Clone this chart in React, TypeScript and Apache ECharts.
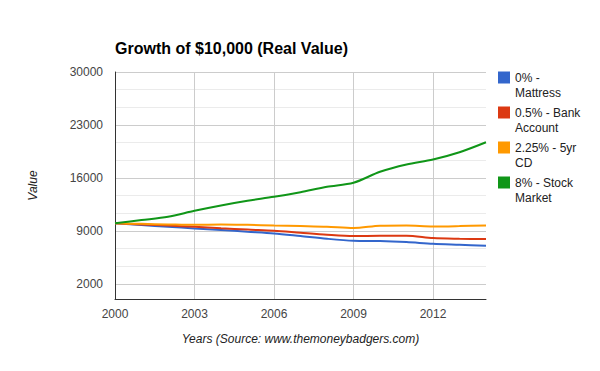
import React, { useEffect, useRef } from "react";
import * as echarts from "echarts";

const years = [2000, 2001, 2002, 2003, 2004, 2005, 2006, 2007, 2008, 2009, 2010, 2011, 2012, 2013, 2014];
const mattress = [10000, 9770, 9550, 9330, 9130, 8900, 8670, 8320, 7960, 7700, 7660, 7520, 7300, 7170, 7040];
const bank = [10000, 9850, 9700, 9550, 9350, 9170, 9020, 8750, 8490, 8320, 8360, 8360, 8050, 7960, 7920];
const cd = [10000, 9930, 9860, 9800, 9850, 9800, 9720, 9640, 9550, 9380, 9680, 9720, 9590, 9640, 9720];
const stock = [10000, 10430, 10870, 11660, 12360, 12980, 13500, 14120, 14830, 15360, 16810, 17780, 18440, 19400, 20720];

const seriesNames = ["0% - Mattress", "0.5% - Bank Account", "2.25% - 5yr CD", "8% - Stock Market"];
const legendLabels = [" \n0% -\nMattress", " \n0.5% - Bank\nAccount", " \n2.25% - 5yr\nCD", " \n8% - Stock\nMarket"];
const seriesColors = ["#3366cc", "#dc3912", "#ff9900", "#109618"];
const seriesValues = [mattress, bank, cd, stock];

const yLabelTicks = [2000, 9000, 16000, 23000, 30000];
const yGridTicks = [2000, 2000 + 7000 / 3, 2000 + 14000 / 3, 9000, 9000 + 7000 / 3, 9000 + 14000 / 3, 16000, 16000 + 7000 / 3, 16000 + 14000 / 3, 23000, 23000 + 7000 / 3, 23000 + 14000 / 3, 30000];
const xTicks = [2000, 2003, 2006, 2009, 2012];

export default function App() {
  const ref = useRef<HTMLDivElement>(null);
  useEffect(() => {
    const chart = echarts.init(ref.current!, null, { renderer: "svg" });
    const font = "Arial, 'Liberation Sans', sans-serif";
    chart.setOption({
      animation: false,
      textStyle: { fontFamily: font },
      title: {
        text: "Growth of $10,000 (Real Value)",
        left: 110,
        top: 35,
        textStyle: { fontSize: 16, fontWeight: "bold", color: "#000", fontFamily: font },
      },
      grid: { left: 115, right: 114, top: 72, bottom: 72 },
      legend: {
        orient: "vertical",
        left: 498,
        top: 55,
        padding: 0,
        itemGap: -10,
        itemWidth: 12,
        itemHeight: 12,
        icon: "rect",
        data: seriesNames,
        formatter: (name: string) => legendLabels[seriesNames.indexOf(name)],
        textStyle: {
          fontSize: 12,
          color: "#222",
          lineHeight: 15,
          fontFamily: font,
        },
      },
      xAxis: {
        type: "value",
        min: 2000,
        max: 2014,
        name: "Years (Source: www.themoneybadgers.com)",
        nameLocation: "middle",
        nameGap: 34,
        nameTextStyle: { fontStyle: "italic", fontSize: 12, color: "#222", fontFamily: font },
        axisLine: { show: true, lineStyle: { color: "#333", width: 1 } },
        axisTick: { show: false, customValues: xTicks },
        axisLabel: {
          customValues: xTicks,
          formatter: (v: number) => String(v),
          fontSize: 12,
          color: "#444",
          margin: 9,
        },
        splitLine: { show: true, lineStyle: { color: "#cccccc", width: 1 } },
      },
      yAxis: {
        type: "value",
        min: 0,
        max: 30000,
        name: "Value",
        nameLocation: "middle",
        nameGap: 76,
        nameTextStyle: { fontStyle: "italic", fontSize: 12, color: "#222", fontFamily: font },
        axisLine: { show: true, lineStyle: { color: "#333", width: 1 } },
        axisTick: { show: false, customValues: yGridTicks },
        axisLabel: {
          customValues: yLabelTicks,
          formatter: (v: number) => String(v),
          fontSize: 12,
          color: "#444",
          margin: 12,
        },
        splitLine: { show: true, lineStyle: { color: ["#cccccc", "#ebebeb", "#ebebeb"], width: 1 } },
      },
      series: seriesNames.map((name, i) => ({
        name,
        type: "line",
        data: years.map((y, j) => [y, seriesValues[i][j]]),
        showSymbol: false,
        smooth: 0.3,
        lineStyle: { width: 2, color: seriesColors[i] },
        itemStyle: { color: seriesColors[i] },
      })),
    });
    return () => chart.dispose();
  }, []);
  return <div ref={ref} style={{ width: 600, height: 371, position: "absolute", left: 0, top: 0 }} />;
}
